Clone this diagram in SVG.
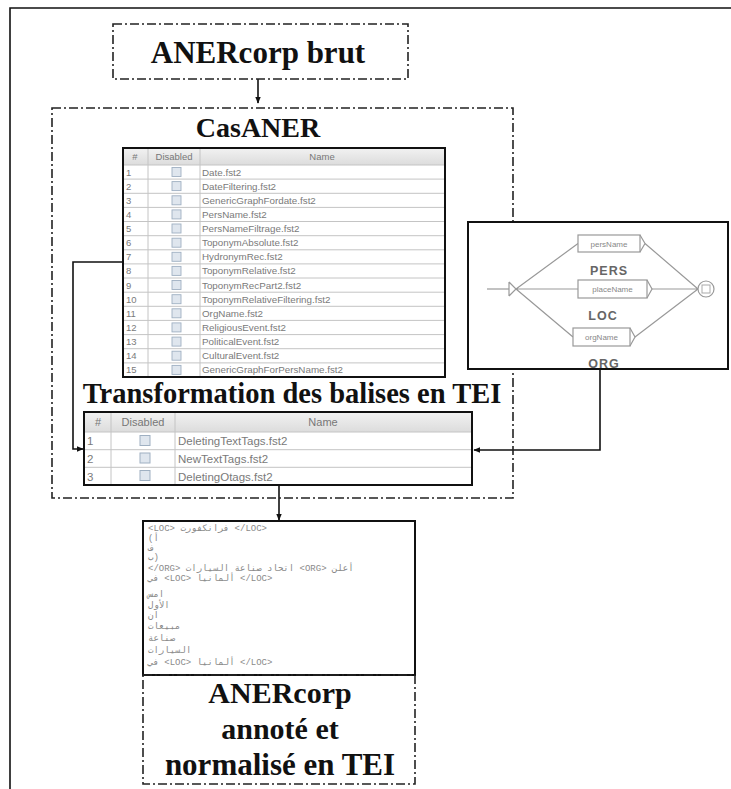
<svg xmlns="http://www.w3.org/2000/svg" width="731" height="789" viewBox="0 0 731 789">
<style>
.dd{fill:none;stroke:#222;stroke-width:1.6;stroke-dasharray:9 3 2 3}
.title{font-family:"Liberation Serif","Times New Roman",serif;font-weight:bold;fill:#111;text-anchor:middle}
.tb{fill:#fff;stroke:#111;stroke-width:2}
.grid{stroke:#c4c4c4;stroke-width:1}
.hdr{font-family:"Liberation Sans",Arial,sans-serif;fill:#777;text-anchor:middle}
.cell{font-family:"Liberation Sans",Arial,sans-serif;fill:#7a7a7a}
.conn{fill:none;stroke:#111;stroke-width:1.6}
.g{fill:none;stroke:#999;stroke-width:1.2}
.gbox{fill:#fff;stroke:#999;stroke-width:1.2}
.gt{font-family:"Liberation Sans",Arial,sans-serif;font-size:8px;fill:#888;text-anchor:middle}
.gl{font-family:"Liberation Sans",Arial,sans-serif;font-size:12.5px;font-weight:bold;fill:#666;text-anchor:middle;letter-spacing:1px}
.ar{font-family:"Liberation Mono","DejaVu Sans Mono","DejaVu Sans",monospace;font-size:9px;fill:#8a8a8a}
</style>
<defs>
<marker id="arr" viewBox="0 0 10 10" refX="9" refY="5" markerWidth="7" markerHeight="7" orient="auto-start-reverse" markerUnits="userSpaceOnUse">
<path d="M0,1 L10,5 L0,9 z" fill="#111"/>
</marker>
<linearGradient id="hg" x1="0" y1="0" x2="0" y2="1">
<stop offset="0" stop-color="#f2f2f2"/>
<stop offset="1" stop-color="#dcdcdc"/>
</linearGradient>
<symbol id="cb" viewBox="0 0 10 10" overflow="visible">
<rect x="0" y="0" width="10" height="10" fill="#dfe6ee" stroke="#9fb0c2" stroke-width="1"/>
</symbol>
</defs>

<path d="M10,789 V8 H731" fill="none" stroke="#111" stroke-width="1.6"/>

<g id="connectors">
<line class="conn" x1="258" y1="79" x2="258" y2="103" marker-end="url(#arr)"/>
<polyline class="conn" points="123,262 73,262 73,449 83,449" marker-end="url(#arr)"/>
<polyline class="conn" points="600,369 600,450 474,450" marker-end="url(#arr)"/>
<line class="conn" x1="279" y1="485" x2="279" y2="520" marker-end="url(#arr)"/>
</g>

<g id="anercorp-brut">
<rect class="dd" x="113" y="24" width="295" height="55"/>
<text class="title" x="258" y="63" font-size="31">ANERcorp brut</text>
</g>

<g id="casaner">
<rect class="dd" x="52" y="108" width="461" height="390"/>
<text class="title" x="258" y="137" font-size="28">CasANER</text>
<text class="title" x="292" y="403" font-size="28.5">Transformation des balises en TEI</text>
</g>

<g id="table-casaner">
<rect x="123" y="148" width="322" height="229" fill="#fff"/>
<rect x="123" y="148" width="322" height="17" fill="url(#hg)"/>
<g class="grid">
<line x1="123" y1="165" x2="445" y2="165"/>
<line x1="123" y1="179.1" x2="445" y2="179.1"/>
<line x1="123" y1="193.3" x2="445" y2="193.3"/>
<line x1="123" y1="207.4" x2="445" y2="207.4"/>
<line x1="123" y1="221.5" x2="445" y2="221.5"/>
<line x1="123" y1="235.7" x2="445" y2="235.7"/>
<line x1="123" y1="249.8" x2="445" y2="249.8"/>
<line x1="123" y1="263.9" x2="445" y2="263.9"/>
<line x1="123" y1="278" x2="445" y2="278"/>
<line x1="123" y1="292.2" x2="445" y2="292.2"/>
<line x1="123" y1="306.3" x2="445" y2="306.3"/>
<line x1="123" y1="320.4" x2="445" y2="320.4"/>
<line x1="123" y1="334.6" x2="445" y2="334.6"/>
<line x1="123" y1="348.7" x2="445" y2="348.7"/>
<line x1="123" y1="362.9" x2="445" y2="362.9"/>
<line x1="148" y1="148" x2="148" y2="377"/>
<line x1="200" y1="148" x2="200" y2="377"/>
</g>
<g class="hdr" font-size="9.5">
<text x="135" y="160">#</text>
<text x="174" y="160">Disabled</text>
<text x="322" y="160">Name</text>
</g>
<g>
<use href="#cb" x="172" y="167.5" width="9" height="9"/>
<use href="#cb" x="172" y="181.6" width="9" height="9"/>
<use href="#cb" x="172" y="195.8" width="9" height="9"/>
<use href="#cb" x="172" y="209.9" width="9" height="9"/>
<use href="#cb" x="172" y="224" width="9" height="9"/>
<use href="#cb" x="172" y="238.2" width="9" height="9"/>
<use href="#cb" x="172" y="252.3" width="9" height="9"/>
<use href="#cb" x="172" y="266.4" width="9" height="9"/>
<use href="#cb" x="172" y="280.5" width="9" height="9"/>
<use href="#cb" x="172" y="294.7" width="9" height="9"/>
<use href="#cb" x="172" y="308.8" width="9" height="9"/>
<use href="#cb" x="172" y="322.9" width="9" height="9"/>
<use href="#cb" x="172" y="337.1" width="9" height="9"/>
<use href="#cb" x="172" y="351.2" width="9" height="9"/>
<use href="#cb" x="172" y="365.4" width="9" height="9"/>
</g>
<g class="cell" font-size="9.5">
<text x="126" y="175.5">1</text>
<text x="126" y="189.6">2</text>
<text x="126" y="203.8">3</text>
<text x="126" y="217.9">4</text>
<text x="126" y="232">5</text>
<text x="126" y="246.2">6</text>
<text x="126" y="260.3">7</text>
<text x="126" y="274.4">8</text>
<text x="126" y="288.5">9</text>
<text x="126" y="302.7">10</text>
<text x="126" y="316.8">11</text>
<text x="126" y="330.9">12</text>
<text x="126" y="345.1">13</text>
<text x="126" y="359.2">14</text>
<text x="126" y="373.4">15</text>
</g>
<g class="cell" font-size="9.8">
<text x="202" y="175.5">Date.fst2</text>
<text x="202" y="189.6">DateFiltering.fst2</text>
<text x="202" y="203.8">GenericGraphFordate.fst2</text>
<text x="202" y="217.9">PersName.fst2</text>
<text x="202" y="232">PersNameFiltrage.fst2</text>
<text x="202" y="246.2">ToponymAbsolute.fst2</text>
<text x="202" y="260.3">HydronymRec.fst2</text>
<text x="202" y="274.4">ToponymRelative.fst2</text>
<text x="202" y="288.5">ToponymRecPart2.fst2</text>
<text x="202" y="302.7">ToponymRelativeFiltering.fst2</text>
<text x="202" y="316.8">OrgName.fst2</text>
<text x="202" y="330.9">ReligiousEvent.fst2</text>
<text x="202" y="345.1">PoliticalEvent.fst2</text>
<text x="202" y="359.2">CulturalEvent.fst2</text>
<text x="202" y="373.4">GenericGraphForPersName.fst2</text>
</g>
<rect x="123" y="148" width="322" height="229" fill="none" stroke="#111" stroke-width="2"/>
</g>

<g id="table-tei">
<rect x="84" y="412" width="388" height="73" fill="#fff"/>
<rect x="84" y="412" width="388" height="20" fill="url(#hg)"/>
<g class="grid">
<line x1="84" y1="432" x2="472" y2="432"/>
<line x1="84" y1="449.7" x2="472" y2="449.7"/>
<line x1="84" y1="467.3" x2="472" y2="467.3"/>
<line x1="111" y1="412" x2="111" y2="485"/>
<line x1="175" y1="412" x2="175" y2="485"/>
</g>
<g class="hdr" font-size="11">
<text x="98" y="426">#</text>
<text x="143" y="426">Disabled</text>
<text x="323" y="426">Name</text>
</g>
<use href="#cb" x="140" y="435" width="10" height="11"/>
<use href="#cb" x="140" y="452.5" width="10" height="11"/>
<use href="#cb" x="140" y="470" width="10" height="11"/>
<g class="cell" font-size="11.5">
<text x="87" y="445">1</text>
<text x="87" y="463">2</text>
<text x="87" y="481">3</text>
<text x="178" y="445">DeletingTextTags.fst2</text>
<text x="178" y="463">NewTextTags.fst2</text>
<text x="178" y="481">DeletingOtags.fst2</text>
</g>
<rect x="84" y="412" width="388" height="73" fill="none" stroke="#111" stroke-width="2"/>
</g>

<g id="graph">
<rect x="468" y="222" width="260" height="147" fill="#fff"/>
<line class="g" x1="487" y1="289" x2="509" y2="289"/>
<path class="g" d="M509,282 V296 M509,282 L516,289 L509,296"/>
<path class="g" d="M516,289 L578,243.5 M516,289 L578,289 M516,289 L573,337"/>
<path class="g" d="M645,243.5 L698,289 M652,289 L698,289 M635,337 L698,289"/>
<rect class="gbox" x="578" y="235" width="62" height="17"/>
<path class="g" d="M640,235 L645,243.5 L640,252"/>
<rect class="gbox" x="578" y="280" width="69" height="18"/>
<path class="g" d="M647,280 L652,289 L647,298"/>
<rect class="gbox" x="573" y="328" width="57" height="18"/>
<path class="g" d="M630,328 L635,337 L630,346"/>
<circle class="gbox" cx="706" cy="289" r="8"/>
<rect x="702" y="285" width="8" height="8" fill="none" stroke="#aaa" stroke-width="1"/>
<text class="gt" x="609" y="246.5">persName</text>
<text class="gt" x="612.5" y="292">placeName</text>
<text class="gt" x="601.5" y="340">orgName</text>
<text class="gl" x="609" y="275">PERS</text>
<text class="gl" x="603" y="320">LOC</text>
<text class="gl" x="604" y="368">ORG</text>
<rect x="468" y="222" width="260" height="147" fill="none" stroke="#111" stroke-width="2"/>
</g>

<g id="tei-text">
<rect class="tb" x="143" y="521" width="272" height="154"/>
<g class="ar">
<text x="148" y="531">&lt;LOC&gt; فرانكفورت &lt;/LOC&gt;</text>
<text x="148" y="540.5">(أ</text>
<text x="148" y="550">ف</text>
<text x="148" y="559.5">ب)</text>
<text x="148" y="571">&lt;/ORG&gt; اتحاد صناعة السيارات &lt;ORG&gt; أعلن</text>
<text x="148" y="581">في &lt;LOC&gt; ألمانيا &lt;/LOC&gt;</text>
<text x="148" y="597">امس</text>
<text x="148" y="607.5">الأول</text>
<text x="148" y="618">ان</text>
<text x="148" y="629">مبيعات</text>
<text x="148" y="640.5">صناعة</text>
<text x="148" y="653">السيارات</text>
<text x="148" y="665">في &lt;LOC&gt; ألمانيا &lt;/LOC&gt;</text>
</g>
</g>

<g id="anercorp-tei">
<rect class="dd" x="143" y="675" width="272" height="109"/>
<text class="title" x="280" y="703" font-size="30">ANERcorp</text>
<text class="title" x="280" y="739" font-size="30">annoté et</text>
<text class="title" x="280" y="775" font-size="31">normalisé en TEI</text>
</g>
</svg>
